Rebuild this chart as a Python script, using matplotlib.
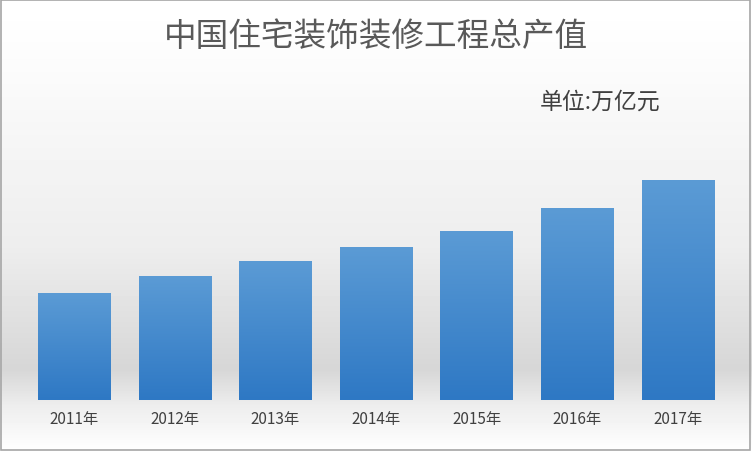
import matplotlib
matplotlib.use("Agg")
import matplotlib.pyplot as plt
import numpy as np
from matplotlib.colors import LinearSegmentedColormap
from matplotlib.patches import Rectangle

plt.rcParams['font.family'] = ['Noto Sans CJK SC', 'DejaVu Sans']

categories = ["2011年", "2012年", "2013年", "2014年", "2015年", "2016年", "2017年"]
values = [1.07, 1.24, 1.39, 1.53, 1.69, 1.92, 2.20]

fig = plt.figure(figsize=(7.52, 4.52), dpi=100)

bg = fig.add_axes([0, 0, 1, 1], zorder=0)
bg.axis('off')
ys = np.linspace(0, 1, 452)
shade = np.interp(ys, [0, 0.12, 0.55, 0.82, 0.9, 1.0], [1.0, 0.99, 0.93, 0.84, 0.93, 1.0])
img = np.repeat(shade[:, None], 10, axis=1)
bg.imshow(img, cmap='gray', vmin=0, vmax=1, aspect='auto', extent=[0, 1, 0, 1])
bg.add_patch(Rectangle((0.001, 0.002), 0.997, 0.995, fill=False, edgecolor='#a6a6a6', lw=1.2, transform=bg.transAxes))

ax = fig.add_axes([24/752, 51/452, 704/752, 260/452], zorder=1)
ax.patch.set_alpha(0)
x = np.arange(len(categories))
bars = ax.bar(x, values, width=0.72, color='none')
cmap = LinearSegmentedColormap.from_list('b', ['#2e78c4', '#5b9bd5'])
grad = np.linspace(0, 1, 256)[:, None]
for b in bars:
    im = ax.imshow(grad, cmap=cmap, aspect='auto', origin='lower',
                   extent=[b.get_x(), b.get_x() + b.get_width(), 0, b.get_height()], zorder=2)
    im.set_clip_path(b)
ax.set_xlim(-0.5, len(categories) - 0.5)
ax.set_ylim(0, 2.6)
ax.set_xticks(x)
ax.set_xticklabels(categories, fontsize=11, color='#404040')
ax.tick_params(length=0, pad=7)
ax.set_yticks([])
for s in ax.spines.values():
    s.set_visible(False)

fig.text(0.5, 0.918, "中国住宅装饰装修工程总产值", ha='center', va='center', fontsize=23.5, color='#595959')
fig.text(0.798, 0.775, "单位:万亿元", ha='center', va='center', fontsize=16.5, color='#404040')

fig.savefig("out.png", dpi=100)
